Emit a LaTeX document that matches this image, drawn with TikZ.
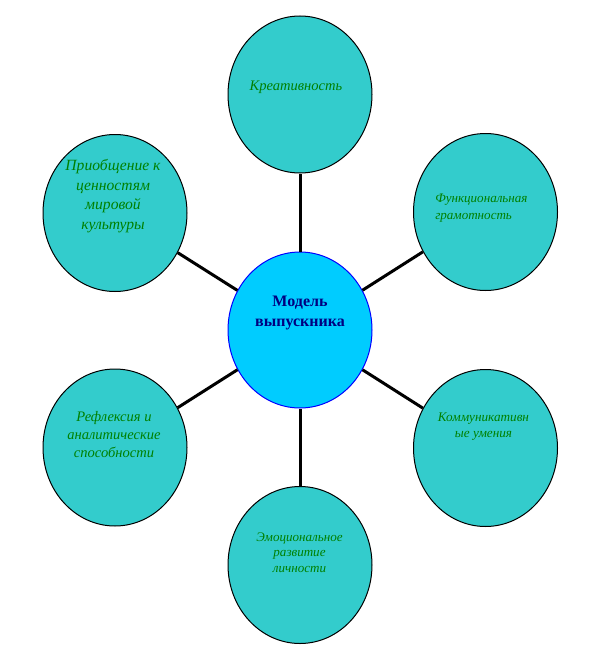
\documentclass[tikz,border=0pt]{standalone}
\usepackage{fontspec}
\setmainfont{Liberation Serif}
\usetikzlibrary{shapes.geometric}
\definecolor{teal1}{HTML}{33CCCC}
\definecolor{sky1}{HTML}{00CCFF}
\definecolor{grn}{HTML}{008000}
\definecolor{navy1}{HTML}{000080}
\begin{document}
\begin{tikzpicture}[x=0.75pt,y=-0.75pt,
  outer/.style={ellipse,draw=black,line width=0.75pt,fill=teal1,minimum width=108pt,minimum height=117.75pt,inner sep=0pt},
  core/.style={ellipse,draw=blue,line width=0.75pt,fill=sky1,minimum width=108pt,minimum height=117pt,inner sep=0pt},
  lbl/.style={text=grn,font=\itshape,align=center,inner sep=0pt},
  link/.style={line width=2.25pt,draw=black}]
\useasboundingbox (0,0) rectangle (600,660);
\node[core] (c) at (300,330) {};
\node[outer] (k) at (300,94.5) {};
\node[outer] (tl) at (115,213) {};
\node[outer] (tr) at (485.5,212) {};
\node[outer] (br) at (485.5,448) {};
\node[outer] (b) at (300,565) {};
\node[outer] (bl) at (115,447.5) {};
\draw[link] (c) -- (k);
\draw[link] (c) -- (tl);
\draw[link] (c) -- (tr);
\draw[link] (c) -- (br);
\draw[link] (c) -- (b);
\draw[link] (c) -- (bl);
\node[text=navy1,font=\bfseries\fontsize{12pt}{15pt}\selectfont,align=center,inner sep=0pt] (ct) at (300,313) {Модель\\выпускника};
\node[lbl,font=\itshape\fontsize{10.9pt}{12pt}\selectfont] (kt) at (296,87) {Креативность};
\node[lbl,font=\itshape\fontsize{11.7pt}{14.6pt}\selectfont] (tlt) at (113,196) {Приобщение к\\ценностям\\мировой\\культуры};
\node[lbl,font=\itshape\fontsize{9.8pt}{12.75pt}\selectfont,align=left,anchor=west] (trt) at (435,208.5) {Функциональная\\грамотность};
\node[lbl,font=\itshape\fontsize{9.9pt}{12pt}\selectfont] (brt) at (483.5,427) {Коммуникативн\\ые умения};
\node[lbl,font=\itshape\fontsize{9.8pt}{11.6pt}\selectfont] (bt) at (299.5,552.5) {Эмоциональное\\развитие\\личности};
\node[lbl,font=\itshape\fontsize{10.9pt}{13.5pt}\selectfont] (blt) at (114,435) {Рефлексия и\\аналитические\\способности};
\end{tikzpicture}
\end{document}
